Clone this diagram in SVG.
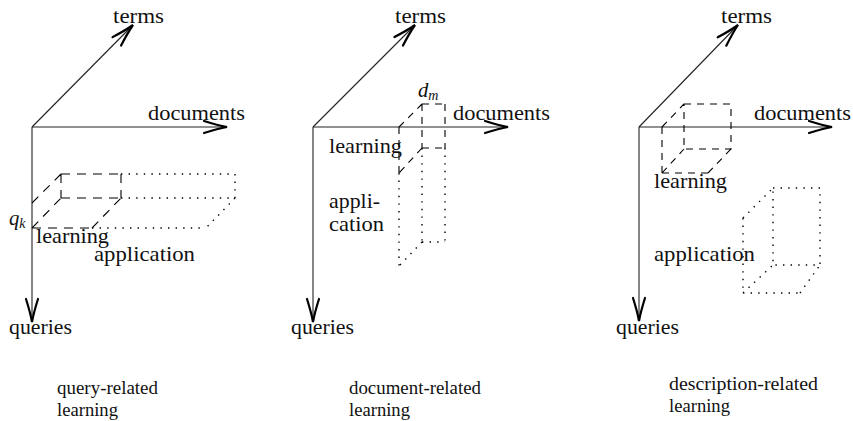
<svg xmlns="http://www.w3.org/2000/svg" width="853" height="421" viewBox="0 0 853 421">
<style>
.axis{fill:none;stroke:#222;stroke-width:1.1}
.dash{fill:none;stroke:#000;stroke-width:1.1;stroke-dasharray:9 7}
.dash2{fill:none;stroke:#000;stroke-width:1.1;stroke-dasharray:7 6}
.dot{fill:none;stroke:#000;stroke-width:1.4;stroke-dasharray:1.4 6.2}
text{font-family:"Liberation Serif","Times New Roman",serif;font-size:20.7px;fill:#111}
.cap{font-size:18.5px}
.it{font-style:italic}
</style>
<defs>
<marker id="arr" markerUnits="userSpaceOnUse" markerWidth="30" markerHeight="20" viewBox="-26 -10 30 20" refX="0" refY="0" orient="auto">
<path d="M-23,-6 Q-9,-1.6 0,0 Q-9,1.6 -23,6" fill="none" stroke="#000" stroke-width="2.2" stroke-linecap="round"/>
</marker>
</defs>
<g id="connectors">
<line class="axis" x1="32" y1="127" x2="133" y2="25" marker-end="url(#arr)"/>
<line class="axis" x1="32" y1="127" x2="227" y2="127" marker-end="url(#arr)"/>
<line class="axis" x1="32" y1="127" x2="32" y2="322" marker-end="url(#arr)"/>
<line class="axis" x1="313" y1="127" x2="415" y2="25" marker-end="url(#arr)"/>
<line class="axis" x1="313" y1="127" x2="508" y2="127" marker-end="url(#arr)"/>
<line class="axis" x1="313" y1="127" x2="313" y2="322" marker-end="url(#arr)"/>
<line class="axis" x1="639" y1="127" x2="738" y2="25" marker-end="url(#arr)"/>
<line class="axis" x1="639" y1="127" x2="832" y2="127" marker-end="url(#arr)"/>
<line class="axis" x1="639" y1="127" x2="639" y2="321" marker-end="url(#arr)"/>
</g>
<g id="panel1">
<path class="dash" d="M61,174H121M61,174V198M121,174V198M61,198H121M32,203L61,174M32,228L61,198M92,228L121,198M32,228H92"/>
<path class="dot" d="M121,174H235M235,174V198M121,198H235M235,198L206,228M92,228H206"/>
<text x="113" y="23" textLength="51" lengthAdjust="spacingAndGlyphs">terms</text>
<text x="148" y="120" textLength="97" lengthAdjust="spacingAndGlyphs">documents</text>
<text x="9" y="334" textLength="63" lengthAdjust="spacingAndGlyphs">queries</text>
<text x="9" y="225" class="it">q<tspan font-size="14" dy="3">k</tspan></text>
<text x="36" y="243" textLength="73" lengthAdjust="spacingAndGlyphs">learning</text>
<text x="94" y="261" textLength="101" lengthAdjust="spacingAndGlyphs">application</text>
<text class="cap" x="57" y="394" textLength="101" lengthAdjust="spacingAndGlyphs">query-related</text>
<text class="cap" x="57" y="416" textLength="61" lengthAdjust="spacingAndGlyphs">learning</text>
</g>
<g id="panel2">
<path class="dash2" d="M399,127L422,104M422,104H445M422,104V148M445,104V148M422,148H445M422,148L399,173M399,127V173"/>
<path class="dot" d="M399,173V266M422,148V242M445,148V242M422,242H445M422,242L399,266"/>
<text x="395" y="23" textLength="51" lengthAdjust="spacingAndGlyphs">terms</text>
<text x="453" y="120" textLength="97" lengthAdjust="spacingAndGlyphs">documents</text>
<text x="291" y="334" textLength="63" lengthAdjust="spacingAndGlyphs">queries</text>
<text x="418" y="97" class="it">d<tspan font-size="14" dy="3">m</tspan></text>
<text x="329" y="153" textLength="73" lengthAdjust="spacingAndGlyphs">learning</text>
<text x="329" y="208" textLength="51" lengthAdjust="spacingAndGlyphs">appli-</text>
<text x="329" y="231" textLength="55" lengthAdjust="spacingAndGlyphs">cation</text>
<text class="cap" x="349" y="394" textLength="132" lengthAdjust="spacingAndGlyphs">document-related</text>
<text class="cap" x="349" y="416" textLength="61" lengthAdjust="spacingAndGlyphs">learning</text>
</g>
<g id="panel3">
<path class="dash2" d="M684,104H731V149H684ZM662,127L684,104M662,173L684,149M708,173L731,149M662,127V173M662,173H708"/>
<path class="dot" d="M773,188H820V265H773ZM743,218L773,188M743,293L773,265M800,293L820,265M743,218V293M743,293H800"/>
<text x="721" y="23" textLength="51" lengthAdjust="spacingAndGlyphs">terms</text>
<text x="754" y="120" textLength="97" lengthAdjust="spacingAndGlyphs">documents</text>
<text x="616" y="334" textLength="63" lengthAdjust="spacingAndGlyphs">queries</text>
<text x="654" y="188" textLength="73" lengthAdjust="spacingAndGlyphs">learning</text>
<text x="654" y="261" textLength="101" lengthAdjust="spacingAndGlyphs">application</text>
<text class="cap" x="669" y="390" textLength="149" lengthAdjust="spacingAndGlyphs">description-related</text>
<text class="cap" x="669" y="412" textLength="61" lengthAdjust="spacingAndGlyphs">learning</text>
</g>
</svg>
